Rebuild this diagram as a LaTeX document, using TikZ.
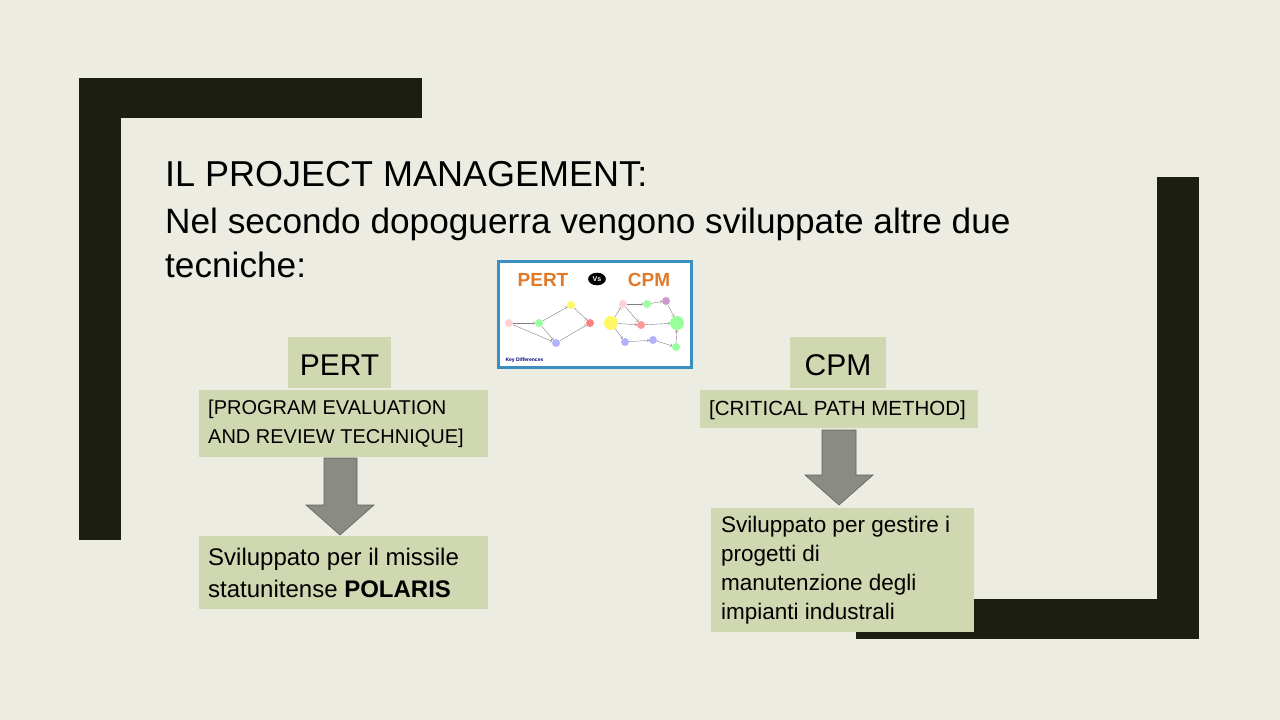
\documentclass[tikz,border=0pt]{standalone}
\usepackage{fontspec}
\usetikzlibrary{shapes.geometric}
\setmainfont{Liberation Sans}
\definecolor{bg}{HTML}{EDECE2}
\definecolor{dk}{HTML}{1C1E12}
\definecolor{gr}{HTML}{CFD8B0}
\definecolor{ar}{HTML}{8A8C84}
\definecolor{bl}{HTML}{3A8FC0}
\definecolor{org}{HTML}{E07A2A}
\tikzset{gbox/.style={fill=gr,draw=none},
 txt/.style={anchor=west,inner sep=0pt,align=left,font=\fontsize{20}{29}\selectfont},
 arr/.style={fill=ar,draw=ar!70!black,line width=0.6pt},
 dot/.style={circle,fill=#1,minimum size=8pt,inner sep=0pt}}
\begin{document}
\begin{tikzpicture}[x=1pt,y=-1pt]
\fill[bg] (0,0) rectangle (1280,720);
\useasboundingbox (0,0) rectangle (1280,720);
% frame
\fill[dk] (79,78) rectangle (422,118);
\fill[dk] (79,78) rectangle (121,540);
\fill[dk] (1157,177) rectangle (1199,639);
\fill[dk] (856,599) rectangle (1199,639);
% title
\node[anchor=base west,inner sep=0pt,font=\fontsize{36}{40}\selectfont] (title) at (165,186) {IL PROJECT MANAGEMENT:};
\node[anchor=north west,inner sep=0pt,align=left,font=\fontsize{35.2}{44}\selectfont] (sub) at (165,208) {Nel secondo dopoguerra vengono sviluppate altre due\\tecniche:};
% image
\node[draw=bl,line width=3pt,fill=white,minimum width=193pt,minimum height=106pt,inner sep=0pt] (img) at (595,314.5) {};
\node[font=\bfseries\fontsize{19}{20}\selectfont,text=org] (pt) at (543,280) {PERT};
\node[font=\bfseries\fontsize{19}{20}\selectfont,text=org] (cp) at (649,280) {CPM};
\node[fill=black,text=white,ellipse,font=\bfseries\fontsize{7}{8}\selectfont,inner sep=2pt] (vs) at (597,279) {Vs};
\node[dot=pink!70] (a1) at (509,323) {};
\node[dot=green!40] (a2) at (539,323) {};
\node[dot=yellow!60] (a3) at (571,305) {};
\node[dot=blue!30] (a4) at (556,343) {};
\node[dot=red!50] (a5) at (590,323) {};
\draw[gray,->] (a1)--(a2); \draw[gray,->] (a2)--(a3); \draw[gray,->] (a2)--(a4);
\draw[gray,->] (a3)--(a5); \draw[gray,->] (a4)--(a5); \draw[gray,->] (a1)--(a4);
\node[dot=yellow!60,minimum width=14pt,minimum height=7pt] (b1) at (611,323) {};
\node[dot=pink!70] (b2) at (623,304) {};
\node[dot=green!40] (b3) at (647,304) {};
\node[dot=violet!40] (b4) at (666,301) {};
\node[dot=red!40] (b5) at (641,325) {};
\node[dot=blue!30] (b6) at (625,342) {};
\node[dot=blue!30] (b7) at (653,340) {};
\node[dot=green!40] (b8) at (676,347) {};
\node[dot=green!40,minimum width=14pt,minimum height=7pt] (b9) at (677,323) {};
\draw[gray,->] (b1)--(b2); \draw[gray,->] (b2)--(b3); \draw[gray,->] (b3)--(b4);
\draw[gray,->] (b4)--(b9); \draw[gray,->] (b1)--(b6); \draw[gray,->] (b6)--(b7);
\draw[gray,->] (b7)--(b8); \draw[gray,->] (b8)--(b9); \draw[gray,->] (b2)--(b5);
\draw[gray,->] (b5)--(b9); \draw[gray,->] (b1)--(b5);
\node[anchor=west,font=\bfseries\fontsize{5}{6}\selectfont,text=blue!50!black] (kd) at (502,360) {Key Differences};
% PERT
\fill[gr] (288,337) rectangle (391,388);
\node[font=\fontsize{30}{34}\selectfont] (pert) at (339.5,365) {PERT};
\fill[gr] (199,390) rectangle (488,457);
\node[txt] (pdesc) at (208,424) {[PROGRAM EVALUATION\\AND REVIEW TECHNIQUE]};
\draw[arr] (324,458) -- (357,458) -- (357,505) -- (374,505) -- (340,535) -- (306,505) -- (324,505) -- cycle;
\fill[gr] (199,536) rectangle (488,609);
\node[txt,font=\fontsize{24}{32}\selectfont] (pres) at (208,573) {Sviluppato per il missile\\statunitense \textbf{POLARIS}};
% CPM
\fill[gr] (790,337) rectangle (886,388);
\node[font=\fontsize{30}{34}\selectfont] (cpm) at (838,365) {CPM};
\fill[gr] (700,390) rectangle (978,428);
\node[txt,font=\fontsize{20.5}{29}\selectfont] (cdesc) at (709,410) {[CRITICAL PATH METHOD]};
\draw[arr] (822,430) -- (856,430) -- (856,475) -- (873,475) -- (839,505) -- (805,475) -- (822,475) -- cycle;
\fill[gr] (711,508) rectangle (974,632);
\node[txt,font=\fontsize{22.5}{29}\selectfont] (cres) at (721,570) {Sviluppato per gestire i\\progetti di\\manutenzione degli\\impianti industrali};
\end{tikzpicture}
\end{document}
